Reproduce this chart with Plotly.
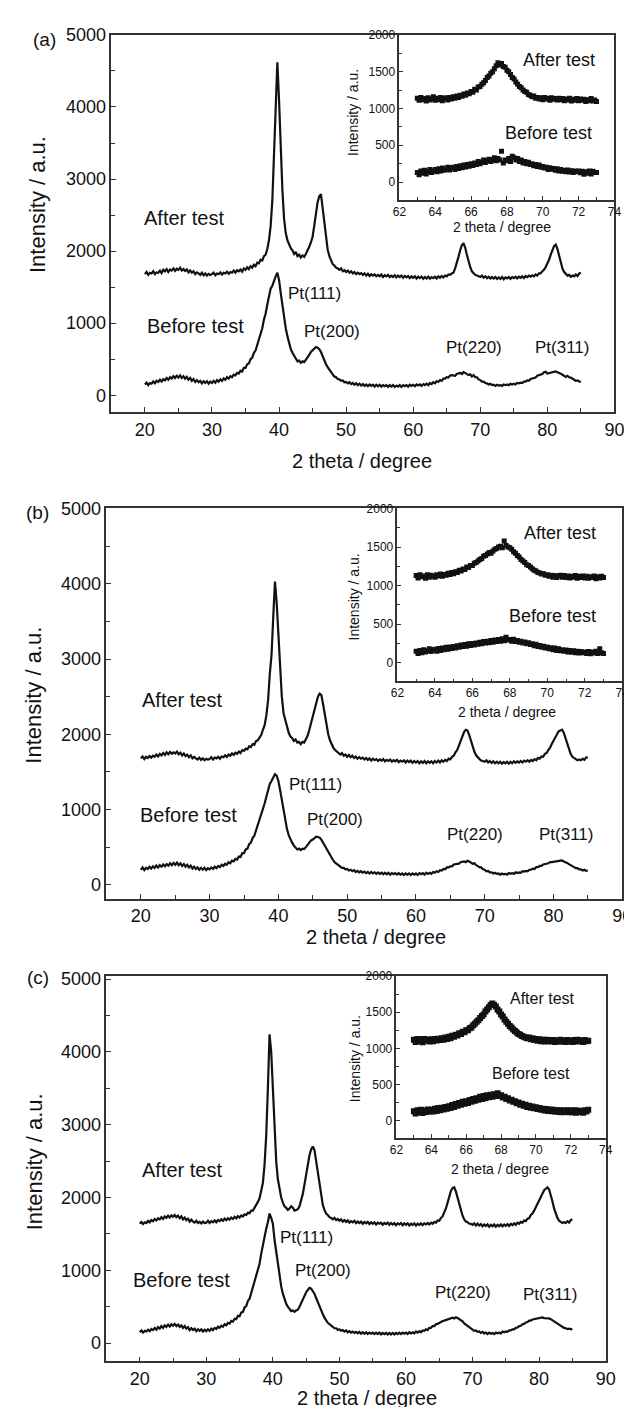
import numpy as np
import plotly.graph_objs as go

# 2 theta grid of the main patterns (20-85 deg, 0.25 deg step)
two_theta = np.linspace(20, 85, 261)
# 2 theta grid of the insets (63-73 deg, 0.1 deg step)
two_theta_inset = np.linspace(63, 73, 101)

# ---- panel (a) ----
a_after = [
    1680, 1710, 1670, 1700, 1690, 1720, 1680, 1705, 1700, 1730, 1695, 1740,
    1720, 1750, 1710, 1745, 1730, 1760, 1725, 1755, 1740, 1770, 1730, 1750,
    1725, 1745, 1705, 1730, 1700, 1720, 1680, 1705, 1690, 1670, 1700, 1665,
    1690, 1660, 1685, 1670, 1680, 1700, 1665, 1690, 1680, 1705, 1675, 1700,
    1690, 1715, 1685, 1710, 1700, 1730, 1700, 1735, 1720, 1745, 1715, 1760,
    1740, 1775, 1750, 1790, 1770, 1810, 1790, 1840, 1830, 1880, 1870, 1930,
    1950, 2030, 2150, 2350, 2700, 3300, 4100, 4620, 4100, 3400, 2850, 2450,
    2250, 2150, 2080, 2040, 2010, 1960, 1990, 1930, 1950, 1910, 1940, 1920,
    1960, 2000, 2060, 2120, 2200, 2350, 2520, 2680, 2760, 2790, 2600, 2380,
    2180, 2020, 1930, 1870, 1820, 1800, 1770, 1760, 1740, 1760, 1720, 1735,
    1710, 1730, 1700, 1720, 1690, 1710, 1680, 1700, 1680, 1695, 1670, 1690,
    1660, 1685, 1655, 1680, 1660, 1675, 1650, 1670, 1650, 1675, 1640, 1665,
    1650, 1670, 1640, 1660, 1640, 1665, 1635, 1660, 1640, 1660, 1630, 1655,
    1635, 1655, 1625, 1650, 1630, 1650, 1620, 1645, 1625, 1645, 1615, 1640,
    1620, 1645, 1615, 1640, 1625, 1645, 1620, 1650, 1630, 1655, 1635, 1660,
    1650, 1675, 1670, 1690, 1700, 1760, 1830, 1920, 2010, 2080, 2110, 2050,
    1950, 1850, 1780, 1720, 1690, 1670, 1660, 1645, 1640, 1660, 1630, 1650,
    1625, 1645, 1620, 1640, 1620, 1640, 1615, 1635, 1615, 1640, 1610, 1635,
    1620, 1640, 1615, 1640, 1625, 1645, 1620, 1645, 1630, 1650, 1625, 1655,
    1640, 1660, 1645, 1665, 1650, 1675, 1660, 1690, 1690, 1720, 1740, 1780,
    1820, 1880, 1950, 2020, 2070, 2090, 2030, 1940, 1840, 1760, 1710, 1680,
    1660, 1670, 1645, 1660, 1650, 1675, 1655, 1690, 1700,
]
a_before = [
    150, 175, 140, 170, 160, 190, 165, 200, 185, 215, 190, 225,
    205, 240, 215, 250, 230, 265, 240, 270, 245, 275, 240, 265,
    230, 255, 215, 240, 200, 225, 185, 210, 180, 200, 165, 195,
    170, 195, 160, 190, 170, 200, 175, 210, 190, 220, 200, 235,
    215, 250, 230, 265, 250, 285, 275, 310, 300, 340, 330, 380,
    380, 430, 440, 500, 520, 590, 620, 700, 760, 860, 930, 1050,
    1130, 1260, 1380, 1480, 1520, 1600, 1650, 1700, 1600, 1420, 1250, 1080,
    930, 820, 720, 640, 590, 540, 510, 470, 480, 450, 470, 460,
    490, 530, 560, 600, 620, 650, 670, 660, 640, 600, 540, 480,
    430, 390, 350, 310, 290, 260, 250, 225, 220, 200, 205, 180,
    185, 165, 180, 155, 170, 145, 165, 140, 160, 135, 155, 130,
    150, 125, 150, 130, 145, 120, 145, 125, 145, 120, 140, 125,
    140, 115, 140, 120, 140, 115, 135, 120, 140, 115, 140, 125,
    140, 120, 145, 130, 145, 125, 150, 135, 150, 130, 155, 140,
    160, 140, 170, 155, 180, 165, 195, 185, 210, 200, 230, 230,
    250, 245, 275, 280, 280, 270, 295, 300, 310, 295, 320, 310,
    300, 280, 290, 260, 280, 250, 250, 220, 210, 190, 190, 170,
    165, 150, 160, 140, 145, 130, 145, 135, 140, 130, 150, 140,
    150, 140, 160, 150, 160, 150, 170, 165, 175, 170, 190, 190,
    205, 200, 225, 230, 245, 245, 270, 275, 290, 295, 320, 325,
    300, 305, 320, 320, 325, 330, 320, 315, 300, 285, 275, 255,
    270, 250, 245, 225, 215, 200, 205, 190, 185,
]

# ---- panel (b) ----
b_after = [
    1680, 1705, 1670, 1700, 1685, 1710, 1690, 1715, 1700, 1730, 1705, 1740,
    1720, 1750, 1725, 1760, 1735, 1765, 1740, 1760, 1745, 1770, 1735, 1755,
    1720, 1745, 1710, 1730, 1695, 1720, 1680, 1700, 1680, 1665, 1690, 1660,
    1680, 1655, 1675, 1665, 1670, 1695, 1665, 1690, 1680, 1700, 1675, 1705,
    1695, 1720, 1700, 1730, 1715, 1745, 1725, 1755, 1740, 1770, 1750, 1790,
    1780, 1810, 1800, 1840, 1830, 1870, 1860, 1910, 1920, 1960, 1990, 2060,
    2120, 2250, 2450, 2800, 3050, 3550, 4030, 3750, 3300, 2850, 2500, 2280,
    2180, 2080, 2020, 1970, 1950, 1910, 1930, 1890, 1900, 1870, 1900, 1890,
    1930, 1980, 2060, 2150, 2240, 2340, 2430, 2500, 2540, 2520, 2400, 2260,
    2120, 2000, 1920, 1860, 1820, 1790, 1770, 1750, 1730, 1750, 1715, 1730,
    1700, 1725, 1695, 1715, 1685, 1705, 1675, 1695, 1675, 1690, 1665, 1685,
    1660, 1680, 1650, 1675, 1655, 1670, 1645, 1665, 1650, 1670, 1640, 1660,
    1645, 1665, 1635, 1655, 1640, 1660, 1630, 1650, 1635, 1655, 1625, 1650,
    1630, 1650, 1620, 1645, 1625, 1645, 1615, 1640, 1620, 1645, 1615, 1640,
    1620, 1640, 1615, 1645, 1625, 1650, 1625, 1655, 1635, 1660, 1645, 1675,
    1665, 1700, 1715, 1760, 1790, 1850, 1910, 1980, 2030, 2060, 2050, 1990,
    1910, 1830, 1770, 1720, 1690, 1670, 1650, 1645, 1635, 1655, 1625, 1645,
    1620, 1640, 1615, 1635, 1615, 1635, 1610, 1630, 1615, 1635, 1610, 1635,
    1615, 1640, 1620, 1640, 1625, 1645, 1625, 1650, 1635, 1655, 1635, 1660,
    1645, 1670, 1655, 1685, 1675, 1705, 1700, 1740, 1750, 1790, 1820, 1870,
    1910, 1960, 2000, 2040, 2050, 2060, 2020, 1950, 1870, 1790, 1740, 1700,
    1680, 1670, 1655, 1665, 1655, 1675, 1660, 1690, 1695,
]
b_before = [
    200, 230, 195, 225, 210, 240, 215, 245, 225, 255, 230, 260,
    240, 270, 245, 275, 255, 285, 260, 290, 265, 295, 260, 285,
    250, 275, 240, 265, 230, 255, 215, 240, 210, 230, 200, 225,
    200, 225, 195, 220, 205, 230, 210, 240, 220, 250, 235, 265,
    250, 280, 265, 300, 285, 320, 310, 345, 335, 375, 370, 420,
    420, 470, 480, 540, 560, 620, 650, 720, 770, 850, 920, 1010,
    1080, 1170, 1260, 1340, 1380, 1430, 1470, 1450, 1380, 1260, 1120, 980,
    850, 740, 660, 600, 560, 520, 500, 470, 480, 460, 480, 475,
    500, 530, 560, 590, 600, 620, 640, 635, 625, 600, 560, 510,
    460, 420, 380, 350, 320, 295, 275, 255, 245, 225, 225, 205,
    210, 190, 200, 180, 195, 170, 185, 165, 180, 160, 175, 155,
    170, 150, 170, 150, 165, 145, 165, 145, 160, 140, 160, 140,
    160, 135, 155, 140, 155, 135, 155, 135, 150, 130, 150, 135,
    150, 130, 150, 135, 150, 130, 155, 140, 155, 135, 160, 145,
    160, 145, 170, 160, 180, 170, 195, 190, 210, 205, 230, 230,
    245, 245, 270, 275, 280, 280, 300, 305, 310, 300, 320, 310,
    300, 280, 285, 260, 250, 230, 230, 205, 200, 180, 185, 165,
    165, 150, 160, 145, 150, 135, 150, 140, 145, 135, 155, 145,
    155, 145, 165, 155, 165, 160, 180, 175, 185, 180, 200, 200,
    215, 210, 235, 235, 250, 250, 270, 270, 280, 285, 300, 300,
    305, 310, 320, 315, 320, 325, 310, 305, 290, 275, 265, 245,
    235, 220, 220, 205, 205, 190, 200, 185, 190,
]

# ---- panel (c) ----
c_after = [
    1640, 1665, 1635, 1660, 1650, 1680, 1660, 1690, 1675, 1705, 1685, 1715,
    1700, 1730, 1705, 1740, 1720, 1750, 1725, 1755, 1735, 1760, 1730, 1750,
    1715, 1740, 1700, 1725, 1690, 1710, 1670, 1695, 1670, 1655, 1680, 1650,
    1665, 1645, 1670, 1650, 1655, 1680, 1650, 1675, 1660, 1685, 1660, 1690,
    1675, 1700, 1680, 1710, 1690, 1715, 1695, 1725, 1705, 1735, 1715, 1745,
    1725, 1755, 1740, 1770, 1760, 1790, 1785, 1820, 1820, 1860, 1880, 1940,
    1990, 2080, 2200, 2450, 2850, 3500, 4240, 4000, 3500, 2900, 2500, 2250,
    2120, 2000, 1930, 1880, 1860, 1830, 1850, 1880, 1860, 1820, 1830, 1840,
    1880, 1950, 2050, 2180, 2320, 2460, 2580, 2660, 2700, 2650, 2500, 2320,
    2150, 2000, 1900, 1830, 1780, 1760, 1730, 1720, 1700, 1720, 1690, 1705,
    1680, 1700, 1670, 1690, 1665, 1685, 1655, 1675, 1660, 1680, 1650, 1670,
    1650, 1670, 1640, 1665, 1645, 1665, 1635, 1660, 1640, 1660, 1630, 1655,
    1640, 1655, 1625, 1650, 1635, 1655, 1625, 1650, 1630, 1650, 1620, 1645,
    1630, 1650, 1620, 1645, 1625, 1645, 1615, 1640, 1625, 1645, 1615, 1640,
    1625, 1645, 1620, 1645, 1630, 1650, 1630, 1655, 1640, 1665, 1655, 1685,
    1680, 1720, 1740, 1800, 1850, 1930, 2020, 2090, 2130, 2140, 2080, 1990,
    1900, 1820, 1750, 1700, 1670, 1660, 1640, 1640, 1625, 1645, 1615, 1640,
    1615, 1635, 1605, 1630, 1610, 1630, 1600, 1625, 1605, 1630, 1600, 1625,
    1605, 1630, 1605, 1630, 1610, 1635, 1610, 1640, 1620, 1645, 1625, 1655,
    1640, 1665, 1655, 1685, 1675, 1710, 1715, 1760, 1780, 1820, 1870, 1910,
    1960, 2010, 2060, 2100, 2120, 2140, 2110, 2040, 1950, 1850, 1770, 1720,
    1680, 1670, 1650, 1660, 1650, 1675, 1655, 1690, 1700,
]
c_before = [
    150, 175, 145, 170, 160, 185, 165, 195, 180, 210, 185, 220,
    200, 235, 210, 245, 225, 255, 230, 260, 240, 265, 235, 255,
    225, 245, 210, 235, 200, 220, 180, 205, 180, 200, 165, 190,
    170, 190, 160, 185, 165, 190, 170, 200, 180, 210, 195, 225,
    210, 240, 225, 260, 245, 280, 270, 305, 295, 335, 330, 375,
    370, 420, 430, 490, 510, 580, 610, 690, 740, 840, 900, 1010,
    1090, 1230, 1360, 1480, 1570, 1660, 1780, 1720, 1640, 1420, 1240, 1060,
    900, 780, 680, 600, 540, 500, 470, 440, 450, 430, 450, 460,
    500, 550, 600, 660, 700, 730, 760, 750, 720, 680, 620, 560,
    500, 440, 400, 350, 310, 280, 260, 235, 225, 205, 205, 185,
    190, 170, 180, 160, 175, 150, 165, 145, 160, 140, 155, 135,
    155, 130, 150, 130, 150, 125, 145, 130, 145, 125, 145, 125,
    145, 120, 140, 125, 140, 120, 140, 120, 140, 120, 140, 125,
    145, 125, 145, 130, 145, 125, 150, 135, 150, 135, 160, 145,
    165, 150, 175, 170, 190, 180, 210, 210, 235, 235, 260, 265,
    280, 285, 305, 310, 320, 320, 340, 340, 350, 340, 355, 345,
    330, 305, 300, 270, 255, 230, 225, 200, 190, 170, 175, 155,
    160, 140, 155, 135, 145, 125, 145, 130, 140, 125, 145, 135,
    145, 135, 160, 150, 160, 155, 175, 175, 190, 190, 210, 215,
    235, 240, 260, 265, 285, 290, 310, 310, 325, 330, 345, 340,
    345, 350, 355, 345, 345, 350, 340, 330, 315, 295, 280, 260,
    245, 230, 225, 210, 205, 195, 200, 190, 195,
]

# ---- insets (63-73 deg) ----
inset_a_after = [
    1140, 1110, 1150, 1120, 1135, 1100, 1145, 1115, 1130, 1160,
    1110, 1140, 1120, 1150, 1105, 1135, 1145, 1115, 1150, 1130,
    1160, 1140, 1170, 1150, 1180, 1165, 1195, 1180, 1210, 1200,
    1230, 1220, 1260, 1250, 1290, 1300, 1330, 1350, 1380, 1420,
    1440, 1480, 1500, 1540, 1580, 1620, 1590, 1610, 1570, 1560,
    1520, 1500, 1460, 1420, 1400, 1360, 1330, 1300, 1280, 1250,
    1230, 1220, 1190, 1180, 1160, 1170, 1140, 1150, 1130, 1145,
    1120, 1150, 1130, 1140, 1110, 1145, 1125, 1135, 1115, 1140,
    1120, 1135, 1105, 1130, 1115, 1140, 1100, 1125, 1110, 1135,
    1105, 1130, 1110, 1125, 1095, 1120, 1105, 1135, 1100, 1115,
    1095,
]
inset_a_before = [
    130, 100, 150, 120, 160, 110, 140, 170, 130, 150,
    170, 140, 180, 150, 190, 160, 175, 200, 165, 190,
    200, 170, 210, 185, 220, 195, 230, 205, 240, 215,
    250, 225, 260, 240, 280, 250, 270, 300, 265, 290,
    310, 280, 300, 330, 290, 320, 300, 420, 260, 300,
    290, 320, 280, 350, 330, 300, 320, 280, 300, 260,
    280, 250, 270, 240, 250, 220, 240, 210, 230, 200,
    210, 190, 200, 170, 195, 175, 185, 160, 180, 150,
    170, 145, 160, 140, 165, 135, 155, 130, 150, 140,
    150, 125, 145, 105, 140, 120, 150, 110, 145, 130,
    130,
]
inset_b_after = [
    1130, 1100, 1140, 1115, 1125, 1095, 1140, 1110, 1135, 1120,
    1110, 1140, 1125, 1150, 1120, 1145, 1135, 1160, 1145, 1170,
    1155, 1180, 1170, 1200, 1190, 1215, 1210, 1240, 1235, 1260,
    1260, 1290, 1300, 1320, 1340, 1350, 1380, 1390, 1410, 1430,
    1420, 1450, 1470, 1480, 1500, 1510, 1490, 1580, 1520, 1500,
    1490, 1470, 1440, 1420, 1390, 1370, 1340, 1320, 1300, 1270,
    1260, 1240, 1220, 1200, 1190, 1170, 1165, 1150, 1155, 1135,
    1140, 1120, 1135, 1110, 1130, 1105, 1125, 1135, 1110, 1130,
    1105, 1125, 1100, 1120, 1110, 1130, 1095, 1120, 1105, 1125,
    1100, 1120, 1095, 1115, 1105, 1125, 1090, 1115, 1100, 1120,
    1105,
]
inset_b_before = [
    150, 120, 160, 130, 170, 140, 155, 180, 145, 165,
    175, 150, 185, 160, 190, 170, 200, 175, 205, 185,
    210, 190, 220, 200, 230, 210, 235, 215, 245, 225,
    250, 230, 255, 240, 265, 245, 275, 255, 280, 260,
    290, 265, 295, 275, 300, 280, 310, 285, 330, 295,
    300, 280, 305, 275, 290, 265, 280, 255, 270, 245,
    260, 235, 245, 220, 240, 210, 225, 200, 215, 190,
    205, 180, 195, 170, 190, 160, 180, 155, 170, 150,
    165, 140, 160, 135, 155, 130, 150, 125, 145, 130,
    140, 120, 145, 115, 140, 125, 150, 120, 180, 130,
    120,
]
inset_c_after = [
    1120, 1090, 1130, 1100, 1125, 1085, 1130, 1105, 1120, 1095,
    1125, 1100, 1130, 1110, 1135, 1115, 1140, 1120, 1150, 1130,
    1160, 1140, 1175, 1160, 1190, 1180, 1210, 1200, 1230, 1225,
    1250, 1250, 1280, 1290, 1320, 1340, 1370, 1390, 1420, 1450,
    1470, 1510, 1540, 1570, 1600, 1620, 1600, 1580, 1540, 1510,
    1470, 1440, 1400, 1370, 1340, 1310, 1290, 1260, 1240, 1220,
    1200, 1190, 1170, 1160, 1150, 1140, 1150, 1125, 1140, 1115,
    1130, 1105, 1125, 1100, 1120, 1095, 1120, 1100, 1115, 1095,
    1115, 1090, 1110, 1095, 1120, 1095, 1110, 1090, 1115, 1095,
    1110, 1090, 1115, 1095, 1120, 1100, 1110, 1090, 1115, 1100,
    1105,
]
inset_c_before = [
    130, 100, 145, 115, 150, 105, 140, 120, 155, 125,
    150, 125, 165, 135, 175, 145, 180, 155, 190, 165,
    200, 175, 215, 190, 230, 205, 245, 220, 260, 235,
    270, 245, 285, 260, 300, 275, 310, 290, 330, 300,
    340, 310, 350, 325, 360, 330, 365, 340, 380, 345,
    350, 320, 330, 300, 310, 280, 290, 260, 270, 240,
    250, 220, 235, 205, 220, 190, 205, 180, 195, 170,
    185, 160, 175, 150, 165, 140, 160, 135, 155, 130,
    150, 125, 145, 120, 145, 115, 140, 120, 145, 115,
    140, 115, 145, 110, 140, 120, 135, 110, 145, 125,
    150,
]

main_ticks = [20, 30, 40, 50, 60, 70, 80, 90]
main_minor = [25, 35, 45, 55, 65, 75, 85]
int_ticks = [0, 1000, 2000, 3000, 4000, 5000]
int_minor = [500, 1500, 2500, 3500, 4500]
inset_ticks = [62, 64, 66, 68, 70, 72, 74]
inset_minor = [63, 65, 67, 69, 71, 73]
inset_int_ticks = [0, 500, 1000, 1500, 2000]
inset_int_minor = [250, 750, 1250, 1750]

FONT = 'Liberation Sans, Arial, sans-serif'
W, H = 632, 1407


def px(x):
    return x / W


def py(y):
    return 1 - y / H


def axis(domain, rng, ticks, minor, size, anchor, ticklen=5):
    return dict(
        domain=domain, range=rng, anchor=anchor,
        tickvals=ticks, ticks='inside', ticklen=ticklen, tickwidth=1.2,
        tickcolor='#333',
        minor=dict(tickvals=minor, ticks='inside', ticklen=ticklen - 1,
                   tickwidth=1.2, tickcolor='#333'),
        showline=True, linecolor='#333', linewidth=1.5, mirror=True,
        showgrid=False, zeroline=False,
        tickfont=dict(family=FONT, size=size, color='#111'),
    )


def pattern(y, xa, ya):
    return go.Scatter(x=two_theta, y=y, xaxis=xa, yaxis=ya, mode='lines',
                      line=dict(color='#111', width=2.2), showlegend=False,
                      hoverinfo='skip')


def dots(y, xa, ya, size):
    return go.Scatter(x=two_theta_inset, y=y, xaxis=xa, yaxis=ya,
                      mode='markers',
                      marker=dict(symbol='square', size=size, color='#111',
                                  line=dict(width=0)),
                      showlegend=False, hoverinfo='skip')


data = [
    pattern(a_after, 'x', 'y'), pattern(a_before, 'x', 'y'),
    dots(inset_a_after, 'x2', 'y2', 5), dots(inset_a_before, 'x2', 'y2', 5),
    pattern(b_after, 'x3', 'y3'), pattern(b_before, 'x3', 'y3'),
    dots(inset_b_after, 'x4', 'y4', 5), dots(inset_b_before, 'x4', 'y4', 5),
    pattern(c_after, 'x5', 'y5'), pattern(c_before, 'x5', 'y5'),
    dots(inset_c_after, 'x6', 'y6', 6), dots(inset_c_before, 'x6', 'y6', 6),
]

# panel boxes in pixels: (main left, right, top, bottom), (inset left, bottom)
panels = [
    dict(main=(99, 616, 17, 397), inset=(395, 183), yr=[-235, 5000.5]),
    dict(main=(94, 624, 494, 887), inset=(393, 668), yr=[-185, 5000.5]),
    dict(main=(94, 607, 965, 1353), inset=(392, 1128), yr=[-250, 5040]),
]

layout = dict(
    width=W, height=H, margin=dict(l=0, r=0, t=0, b=0),
    paper_bgcolor='white', plot_bgcolor='white',
    font=dict(family=FONT, color='#111'),
    showlegend=False,
)

for i, p in enumerate(panels):
    l, r, t, b = p['main']
    il, ib = p['inset']
    n_main = 2 * i + 1
    n_ins = 2 * i + 2
    sx = '' if n_main == 1 else str(n_main)
    layout['xaxis' + sx] = axis([px(l), px(r)], [15, 90], main_ticks,
                                main_minor, 18, 'y' + sx)
    layout['yaxis' + sx] = axis([py(b), py(t)], p['yr'], int_ticks,
                                int_minor, 18, 'x' + sx)
    si = str(n_ins)
    layout['xaxis' + si] = axis([px(il), px(r)], [62, 74], inset_ticks,
                                inset_minor, 12, 'y' + si, ticklen=4)
    layout['yaxis' + si] = axis([py(ib), py(t)], [-240, 2000],
                                inset_int_ticks, inset_int_minor, 12,
                                'x' + si, ticklen=4)

annotations = []


def note(text, x, y, size, xref='paper', yref='paper', angle=0):
    annotations.append(dict(text=text, x=x, y=y, xref=xref, yref=yref,
                            showarrow=False, textangle=angle,
                            xanchor='center', yanchor='middle',
                            font=dict(family=FONT, size=size, color='#111')))


# panel letters
note('(a)', px(30), py(22), 19)
note('(b)', px(23), py(498), 19)
note('(c)', px(24), py(966), 19)

# main axis titles
note('Intensity / a.u.', px(23), py(188), 22, angle=-90)
note('Intensity / a.u.', px(19), py(682), 22, angle=-90)
note('Intensity / a.u.', px(20), py(1152), 22, angle=-90)
note('2 theta / degree', px(357), py(446), 20)
note('2 theta / degree', px(371), py(926), 20)
note('2 theta / degree', px(362), py(1390), 20)

# inset axis titles
note('Intensity / a.u.', px(348), py(95), 14, angle=-90)
note('Intensity / a.u.', px(348), py(583), 14, angle=-90)
note('Intensity / a.u.', px(349), py(1048), 14, angle=-90)
note('2 theta / degree', px(500), py(210), 14)
note('2 theta / degree', px(506), py(699), 14)
note('2 theta / degree', px(498), py(1159), 14)

# curve and peak labels (data coordinates)
labels = [
    ('x', 'y', [(25.9, 2455, 'After test', 20), (27.6, 965, 'Before test', 20),
                (45.3, 1407, 'Pt(111)', 17), (47.9, 883, 'Pt(200)', 17),
                (69.0, 662, 'Pt(220)', 17), (82.3, 662, 'Pt(311)', 17)]),
    ('x3', 'y3', [(26.0, 2454, 'After test', 20), (26.9, 923, 'Before test', 20),
                  (45.4, 1332, 'Pt(111)', 17), (48.3, 870, 'Pt(200)', 17),
                  (68.6, 673, 'Pt(220)', 17), (81.9, 673, 'Pt(311)', 17)]),
    ('x5', 'y5', [(26.3, 2372, 'After test', 20), (26.3, 869, 'Before test', 20),
                  (45.1, 1448, 'Pt(111)', 17), (47.5, 993, 'Pt(200)', 17),
                  (68.5, 690, 'Pt(220)', 17), (81.7, 662, 'Pt(311)', 17)]),
    ('x2', 'y2', [(70.9, 1662, 'After test', 18), (70.3, 662, 'Before test', 18)]),
    ('x4', 'y4', [(70.7, 1680, 'After test', 18), (70.3, 612, 'Before test', 18)]),
    ('x6', 'y6', [(70.4, 1686, 'After test', 16), (69.7, 657, 'Before test', 16)]),
]
for xr, yr, items in labels:
    for x, y, text, size in items:
        note(text, x, y, size, xref=xr, yref=yr)

layout['annotations'] = annotations

fig = go.Figure(data=data, layout=go.Layout(layout))
fig.write_html("out.html")
